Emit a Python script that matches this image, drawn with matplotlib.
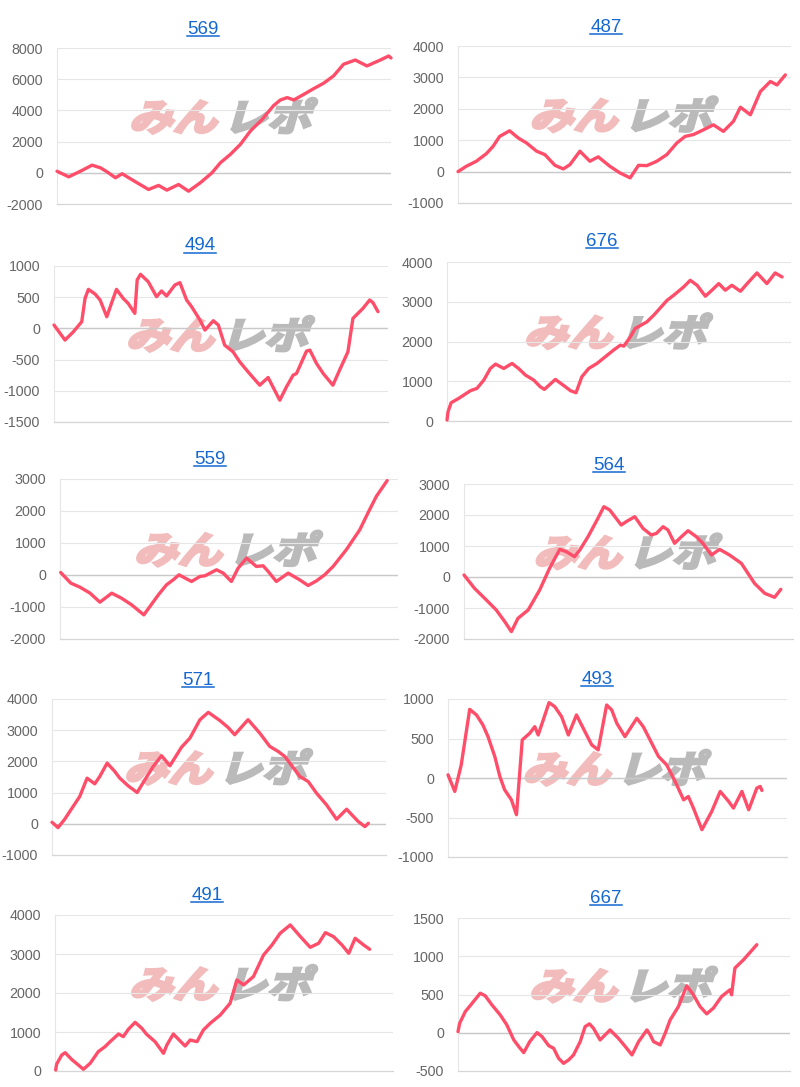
import matplotlib.pyplot as plt
from matplotlib.textpath import TextPath
from matplotlib.patches import PathPatch
from matplotlib.font_manager import FontProperties
from matplotlib.transforms import Affine2D, ScaledTranslation, IdentityTransform
from matplotlib.lines import Line2D

plt.rcParams['font.family'] = ['Liberation Sans', 'DejaVu Sans']
plt.rcParams['axes.unicode_minus'] = False

# DATA: x = position along the period (0-100), y = cumulative difference

x_569 = [0, 3.5, 7, 10.5, 13, 15, 17.5, 19.5, 21.5, 24, 27.4, 30.4, 32.9, 36.4, 39.4, 42.9, 46.4, 48.9,
         51.9, 54.9, 57.9, 61.4, 64.9, 66.9, 68.9, 70.9, 73.9, 76.8, 79.8, 82.8, 85.8, 89.3, 92.8, 96.8, 99.3, 100]
y_569 = [100, -260, 100, 490, 320, 60, -320, -60, -320, -640, -1070, -810, -1110, -750, -1180, -640, 0, 640,
         1180, 1820, 2680, 3420, 4320, 4670, 4820, 4670, 5030, 5390, 5740, 6210, 6960, 7230, 6850, 7230, 7490, 7360]

x_487 = [0, 2.5, 5.5, 8.5, 10.5, 12.5, 15.5, 18.1, 20.6, 23.6, 26.1, 29.1, 31.6, 33.6, 36.6, 39.6, 42.1, 45.6,
         48.6, 51.7, 54.2, 56.7, 59.7, 62.7, 65.7, 68.2, 70.7, 73.7, 76.7, 79.7, 82.7, 84.8, 87.8, 90.8, 93.8, 95.8, 98.3]
y_487 = [0, 170, 330, 570, 800, 1120, 1300, 1070, 910, 650, 540, 200, 85, 220, 650, 330, 470, 170,
         -40, -200, 200, 190, 330, 540, 910, 1120, 1180, 1330, 1490, 1280, 1600, 2050, 1810, 2550, 2870, 2760, 3080]

x_494 = [0, 3.3, 5.8, 8.3, 9.3, 10.3, 12.3, 13.8, 15.8, 17.2, 18.7, 20.7, 22.2, 24.2, 24.9, 25.9, 28.2, 30.7,
         32.2, 33.7, 36.2, 37.7, 39.7, 41.2, 43.7, 45.2, 47.7, 49.2, 51.1, 53.6, 55.6, 58.1, 61.6, 64.1, 67.6,
         69.6, 71.6, 72.6, 75.6, 76.6, 78.6, 80.6, 83.5, 85.5, 88.0, 89.5, 91.0, 92.5, 94.5, 95.5, 97.0]
y_494 = [54, -187, -54, 107, 482, 626, 551, 455, 187, 401, 626, 482, 401, 241, 776, 867, 749, 508,
         600, 519, 696, 733, 455, 348, 134, -27, 123, 54, -268, -375, -535, -696, -910, -787, -1151,
         -937, -749, -723, -364, -348, -562, -723, -910, -669, -375, 161, 241, 321, 455, 412, 268]

x_676 = [0, 0.3, 1.2, 3.4, 6.8, 8.7, 10.7, 12.6, 14.1, 16.5, 18.9, 20.8, 22.8, 25.2, 27.1, 28.3, 31.5, 34.4,
         35.9, 37.5, 39.2, 41.2, 43.6, 46.0, 48.4, 50.4, 51.4, 53.3, 54.7, 58.1, 60.1, 64.0, 65.9, 68.8, 70.7,
         72.7, 75.1, 77.0, 79.0, 80.9, 82.8, 85.3, 87.7, 90.1, 93.0, 95.4, 97.4]
y_676 = [25, 234, 460, 569, 762, 820, 1030, 1322, 1431, 1322, 1448, 1322, 1155, 1030, 862, 795, 1046, 862,
         762, 711, 1113, 1322, 1448, 1615, 1783, 1908, 1883, 2118, 2327, 2494, 2662, 3038, 3164, 3373, 3540,
         3415, 3139, 3290, 3457, 3290, 3415, 3264, 3499, 3725, 3457, 3725, 3624]

x_559 = [0.2, 3.2, 5.9, 8.9, 11.8, 15.3, 18.2, 21.2, 23.6, 24.8, 26.6, 29.1, 31.5, 33.5, 35.2, 38.9, 41.4, 42.9,
         46.3, 48.3, 50.7, 52.7, 55.2, 58.1, 60.1, 61.6, 64.0, 67.5, 70.9, 73.4, 75.9, 78.3, 80.8, 84.7, 88.7,
         91.1, 93.6, 96.8]
y_559 = [79, -255, -380, -568, -850, -568, -725, -933, -1142, -1246, -985, -620, -307, -150, 6, -203, -46, -25,
         163, 58, -203, 215, 528, 267, 288, 111, -203, 58, -150, -328, -182, 6, 267, 789, 1415,
         1937, 2459, 2950]

x_564 = [0, 3.2, 6.8, 9.8, 12.4, 14.4, 16.4, 19.5, 23.0, 26.0, 29.1, 31.1, 33.6, 35.2, 37.7, 40.7, 42.5, 44.3,
         47.8, 49.3, 51.9, 54.4, 56.9, 58.5, 60.5, 62.0, 64.0, 66.1, 68.1, 70.6, 72.6, 75.2, 77.7, 80.7, 84.3,
         88.3, 91.4, 94.4, 96.3]
y_564 = [65, -366, -742, -1064, -1441, -1763, -1333, -1064, -419, 280, 892, 817, 656, 871, 1301, 1892, 2268, 2161,
         1677, 1785, 1946, 1570, 1355, 1408, 1623, 1516, 1086, 1301, 1494, 1301, 1086, 710, 892, 710, 441,
         -204, -527, -656, -398]

x_571 = [0, 1.8, 3.8, 6.3, 8.3, 10.5, 12.8, 14.3, 16.5, 18.8, 20.3, 22.8, 25.5, 27.8, 30.3, 32.8, 35.3, 38.8,
         41.3, 44.3, 46.8, 50.2, 52.7, 54.7, 58.7, 62.2, 65.2, 67.7, 69.7, 74.2, 76.7, 79.2, 82.2, 85.2, 88.2,
         91.7, 93.7, 94.7]
y_571 = [49, -122, 146, 553, 874, 1463, 1281, 1517, 1945, 1677, 1463, 1217, 1003, 1410, 1838, 2181, 1860, 2459,
         2748, 3337, 3572, 3315, 3090, 2855, 3337, 2908, 2480, 2320, 2159, 1517, 1356, 981, 606, 146, 467,
         71, -90, 17]

x_493 = [0, 2.0, 3.9, 6.4, 8.4, 10.3, 11.8, 13.8, 15.3, 16.7, 18.7, 20.2, 21.9, 24.1, 25.6, 26.6, 28.1, 29.8,
         31.5, 33.5, 35.5, 37.9, 40.4, 42.4, 44.3, 46.8, 48.3, 49.8, 52.2, 55.7, 57.6, 59.6, 62.1, 64.5, 67.0,
         69.5, 70.9, 72.4, 74.9, 77.8, 80.3, 82.8, 84.2, 86.7, 88.7, 91.1, 92.1, 92.6]
y_493 = [40, -170, 166, 869, 798, 671, 524, 272, 19, -149, -276, -465, 482, 566, 650, 545, 735, 954,
         903, 777, 545, 798, 587, 419, 356, 924, 861, 692, 524, 756, 650, 482, 272, 166, -44,
         -276, -234, -381, -654, -423, -170, -297, -381, -170, -402, -128, -107, -158]

x_491 = [0.2, 0.5, 2.0, 3.0, 4.9, 6.9, 8.4, 10.4, 12.8, 14.8, 16.3, 18.8, 20.2, 21.7, 23.7, 25.7, 27.1, 29.6,
         32.1, 33.1, 35.0, 37.5, 38.5, 40.0, 42.0, 43.9, 45.9, 48.9, 51.8, 53.8, 55.8, 58.7, 61.7, 64.2, 66.6,
         69.6, 72.6, 75.5, 78.0, 80.0, 82.4, 84.9, 86.9, 88.8, 91.3, 93.1]
y_491 = [26, 180, 410, 470, 299, 154, 43, 197, 496, 624, 752, 949, 881, 1069, 1248, 1094, 941, 752,
         453, 667, 949, 727, 641, 795, 752, 1052, 1223, 1436, 1736, 2334, 2206, 2420, 2975, 3232, 3531,
         3745, 3446, 3172, 3275, 3548, 3446, 3232, 3018, 3403, 3232, 3121]

x_667 = [0, 0.5, 2.2, 3.7, 6.7, 8.2, 10.2, 12.7, 14.7, 16.8, 18.3, 19.8, 21.6, 23.8, 25.3, 27.3, 28.8, 30.3,
         31.8, 33.3, 34.8, 36.8, 38.3, 39.6, 40.8, 42.8, 45.8, 48.3, 50.4, 52.4, 54.4, 56.9, 57.9, 58.9, 60.9,
         62.4, 63.9, 66.4, 68.9, 70.9, 72.9, 74.9, 76.9, 79.4, 81.9, 82.4, 83.4, 86.0, 90.0]
y_667 = [15, 124, 277, 356, 517, 483, 365, 234, 103, -94, -181, -260, -116, 2, -50, -168, -203, -334,
         -400, -356, -290, -116, 81, 116, 59, -94, 37, -72, -181, -290, -116, 37, -28, -116, -159,
         -7, 168, 343, 614, 496, 343, 247, 321, 474, 561, 496, 845, 954, 1151]

titles = ["569", "487", "494", "676", "559", "564", "571", "493", "491", "667"]
xs = [x_569, x_487, x_494, x_676, x_559, x_564, x_571, x_493, x_491, x_667]
ys = [y_569, y_487, y_494, y_676, y_559, y_564, y_571, y_493, y_491, y_667]
# y axis: (min, max, step)
yscales = [(-2000, 8000, 2000), (-1000, 4000, 1000), (-1500, 1000, 500), (0, 4000, 1000), (-2000, 3000, 1000),
           (-2000, 3000, 1000), (-1000, 4000, 1000), (-1000, 1000, 500), (0, 4000, 1000), (-500, 1500, 500)]

# LAYOUT (pixels): axes left, right, top, bottom; title centre x and baseline y
W, H = 800, 1087
boxes = [(57, 391, 48, 204), (458, 791, 46, 203), (54, 388, 266, 422), (447, 791, 262, 421),
         (60, 398, 479, 639), (464, 793, 484, 639), (52, 386, 699, 855), (448, 787, 699, 857),
         (55, 393, 915, 1071), (458, 790, 918, 1071)]
title_xy = [(203, 33.5), (606, 31.5), (200, 250.5), (602, 246), (210, 464), (609, 470),
            (198, 685), (597, 684), (207, 900), (606, 903)]

line_color = '#ff4d6a'
grid_color = '#e6e6e6'

fp_logo = FontProperties(family='Noto Sans CJK JP', weight='bold')


def watermark(ax):
    p1 = TextPath((0, 0), "みん", size=44, prop=fp_logo)
    b1 = p1.get_extents()
    p2 = TextPath((b1.x1 + 8, 0), "レポ", size=44, prop=fp_logo)
    b2 = p2.get_extents()
    cx = (b1.x0 + b2.x1) / 2
    cy = (min(b1.y0, b2.y0) + max(b1.y1, b2.y1)) / 2
    tr = (Affine2D().translate(-cx, -cy).scale(1.0, 0.85).skew_deg(16, 0)
          + ScaledTranslation(0.5, 0.565, ax.transAxes))
    ax.add_patch(PathPatch(p1, transform=tr, fc='#f2bcbc', ec='#f2bcbc', lw=2.2,
                           joinstyle='miter', zorder=0.5))
    ax.add_patch(PathPatch(p2, transform=tr, fc='#bababa', ec='#bababa', lw=2.2,
                           joinstyle='miter', zorder=0.5))


fig = plt.figure(figsize=(8, 10.87), dpi=100)
title_texts = []

for i in range(10):
    l, r, t, b = boxes[i]
    ax = fig.add_axes([l / W, 1 - b / H, (r - l) / W, (b - t) / H])
    lo, hi, step = yscales[i]

    watermark(ax)
    ax.plot(xs[i], ys[i], color=line_color, linewidth=2.4, solid_joinstyle='round',
            solid_capstyle='round', zorder=3, clip_on=False)

    ax.set_xlim(0, 100)
    ax.set_ylim(lo, hi)
    ax.set_yticks(list(range(lo, hi + 1, step)))
    ax.set_xticks([])
    ax.tick_params(axis='y', length=0, pad=10, labelsize=10.3, labelcolor='#666666')

    ax.grid(axis='y', color=grid_color, linewidth=0.8, zorder=1)
    ax.set_axisbelow(True)
    if lo < 0:
        ax.axhline(0, color='#c9c9c9', linewidth=1.0, zorder=1.5)

    for s in ['top', 'right']:
        ax.spines[s].set_visible(False)
    ax.spines['left'].set_color(grid_color)
    ax.spines['left'].set_linewidth(0.8)
    ax.spines['bottom'].set_color('#d6d6d6')
    ax.spines['bottom'].set_linewidth(0.9)

    tx, ty = title_xy[i]
    txt = fig.text(tx / W, 1 - ty / H, titles[i], ha='center', va='baseline',
                   fontsize=13.5, color='#1468d2')
    title_texts.append(txt)

# underline the titles (links)
renderer = fig.canvas.get_renderer()
for txt in title_texts:
    bb = txt.get_window_extent(renderer)
    _, by = txt.get_transform().transform(txt.get_position())
    fig.add_artist(Line2D([bb.x0, bb.x1], [by - 2.2, by - 2.2], color='#1468d2',
                          linewidth=1.1, transform=IdentityTransform()))

fig.savefig("out.png", dpi=100)
